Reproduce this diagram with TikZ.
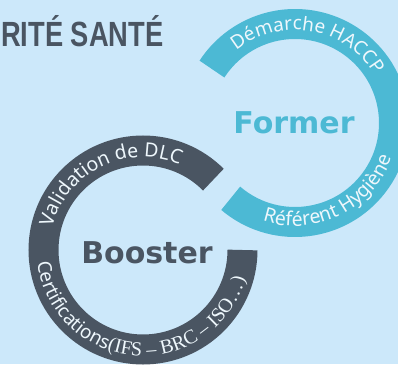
\documentclass[tikz,border=0pt]{standalone}
\usepackage{fontspec}
\usepackage{graphicx}
\setmainfont{DejaVu Sans}
\newfontfamily\titlefont{Liberation Sans}
\newfontfamily\serifarc{Liberation Serif}
\newfontfamily\arcfont{Noto Sans}
\usetikzlibrary{decorations.text,calc}
\definecolor{bg}{RGB}{204,232,250}
\definecolor{teal1}{RGB}{76,185,212}
\definecolor{slate}{RGB}{74,85,98}
\definecolor{arctext}{RGB}{238,247,252}
\newcommand\arcA{\arcfont\fontsize{19}{19}\selectfont\color{arctext}}
\newcommand\arcAA{\arcfont\fontsize{19.5}{19.5}\selectfont\color{arctext}}
\newcommand\arcC{\arcfont\fontsize{19.5}{19.5}\selectfont\color{arctext}}
\newcommand\arcB{\serifarc\fontsize{20}{20}\selectfont\color{arctext}}
\begin{document}
\begin{tikzpicture}[x=1pt,y=1pt,
  ring/.style={line width=30pt},
  centerlabel/.style={font=\fontsize{30}{30}\selectfont\bfseries, inner sep=0pt}]
\useasboundingbox (0,0) rectangle (398,364);
\clip (0,0) rectangle (398,364);
\fill[bg] (0,0) rectangle (398,364);
\coordinate (fc) at (295,241);
\coordinate (bc) at (143,114);
% rings
\draw[ring, teal1] ($(fc)+(-130.5:99)$) arc[start angle=-130.5, end angle=147, radius=99];
\draw[ring, slate] ($(bc)+(45:99.5)$) arc[start angle=45, end angle=360, radius=99.5];
% arc texts
\path[decorate, decoration={text along path, text align=center,
  text={|\arcA|Démarche HACCP}}]
  ($(fc)+(190:93)$) arc[start angle=190, end angle=-30, radius=93];
\path[decorate, decoration={text along path, text align=center,
  text={|\arcC|Référent Hygiène}}]
  ($(fc)+(-174:103)$) arc[start angle=-174, end angle=46, radius=103];
\path[decorate, decoration={text along path, text align=center,
  text={|\arcAA|Validation de DLC}}]
  ($(bc)+(226.5:93)$) arc[start angle=226.5, end angle=6.5, radius=93];
\path[decorate, decoration={text along path, text align=center,
  text={|\arcA|Certifications|\arcB|(IFS – BRC – ISO…)}}]
  ($(bc)+(-214.5:106)$) arc[start angle=-214.5, end angle=25.5, radius=106];
% labels
\node[centerlabel, text=teal1] (former) at (294,241.5) {Former};
\node[centerlabel, text=slate] (booster) at (147,111) {Booster};
\node[anchor=base west, inner sep=0pt, text=slate] (title) at (1,317)
  {\scalebox{0.78}[1]{\titlefont\bfseries\fontsize{35}{35}\selectfont RITÉ SANTÉ}};
\end{tikzpicture}
\end{document}
